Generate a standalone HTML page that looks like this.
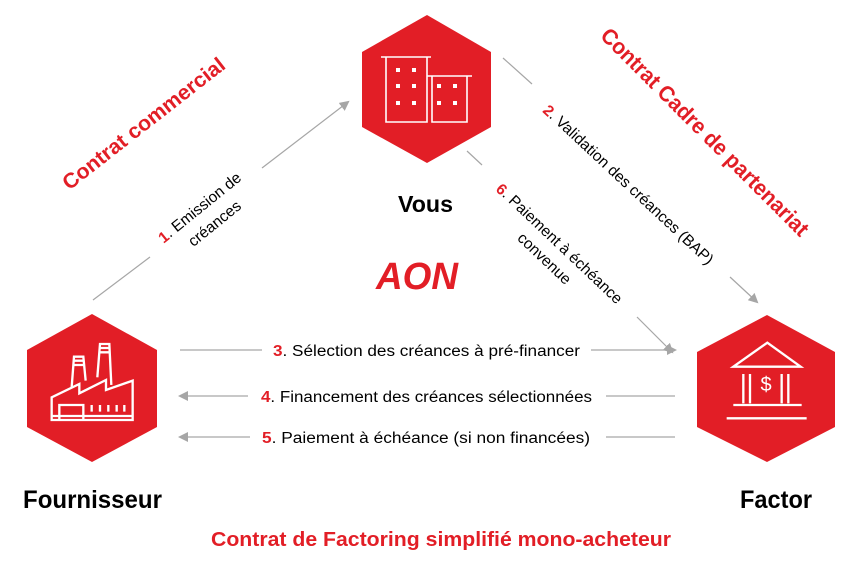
<!DOCTYPE html>
<html><head><meta charset="utf-8"><style>
html,body{margin:0;padding:0;background:#fff;}
svg{display:block;font-family:"Liberation Sans",Arial,sans-serif;}
</style></head><body>
<svg width="850" height="561" viewBox="0 0 850 561" xmlns="http://www.w3.org/2000/svg">
<defs>
<marker id="ah" markerWidth="10" markerHeight="10" refX="8" refY="5" orient="auto" markerUnits="userSpaceOnUse">
<path d="M0,0 L10,5 L0,10 Z" fill="#a6a6a6"/></marker>
</defs>
<!-- hexagons -->
<polygon points="427,15 491,52 491,127 427,163 362,127 362,52" fill="#e21e26"/>
<polygon points="92,314 157,350 157,427 92,462 27,427 27,350" fill="#e21e26"/>
<polygon points="767,315 835,352 835,427 767,462 697,427 697,352" fill="#e21e26"/>

<!-- building icon -->
<g stroke="#fff" stroke-width="1.6" fill="none">
<path d="M381,57 L431,57 M386,57 L386,122 L427,122 L427,57 M427,76 L472,76 M432,76 L432,122 L467,122 L467,76"/>
</g>
<g fill="#fff">
<rect x="396" y="68" width="4" height="4"/><rect x="412" y="68" width="4" height="4"/>
<rect x="396" y="84" width="4" height="4"/><rect x="412" y="84" width="4" height="4"/>
<rect x="396" y="101" width="4" height="4"/><rect x="412" y="101" width="4" height="4"/>
<rect x="437" y="84" width="4" height="4"/><rect x="453" y="84" width="4" height="4"/>
<rect x="437" y="101" width="4" height="4"/><rect x="453" y="101" width="4" height="4"/>
</g>

<!-- factory icon -->
<g transform="translate(20,310) scale(0.3333)" stroke="#fff" stroke-width="7" fill="none">
<path d="M95,330 L95,262 L178,222 L178,250 L258,210 L258,240 L338,212 L338,330 Z"/>
<path d="M155,232 L162,140 L190,140 L197,212"/>
<path d="M232,202 L240,102 L268,102 L274,225"/>
<path d="M160,152 L192,152 M159,165 L193,165 M239,114 L269,114 M238,127 L270,127"/>
<path d="M118,330 L118,285 L190,285 L190,330 M95,318 L338,318"/>
<path d="M215,285 L215,305 M240,285 L240,305 M265,285 L265,305 M290,285 L290,305 M313,285 L313,305"/>
</g>

<!-- bank icon -->
<g transform="translate(680,300) scale(0.3333)" stroke="#fff" stroke-width="7" fill="none">
<path d="M160,200 L262,128 L362,200 Z"/>
<path d="M190,222 L190,310 M210,222 L210,310 M305,222 L305,310 M325,222 L325,310"/>
<path d="M160,315 L365,315 M140,355 L380,355"/>
</g>
<text x="766" y="391" font-size="20" fill="#fff" text-anchor="middle">$</text>

<!-- connectors -->
<g stroke="#a6a6a6" stroke-width="1.2" fill="none">
<line x1="93" y1="300" x2="150" y2="257"/>
<line x1="262" y1="168" x2="348" y2="102" marker-end="url(#ah)"/>
<line x1="503" y1="58" x2="532" y2="84"/>
<line x1="730" y1="277" x2="757" y2="302" marker-end="url(#ah)"/>
<line x1="467" y1="151" x2="482" y2="165"/>
<line x1="637" y1="317" x2="672" y2="352" marker-end="url(#ah)"/>
<line x1="180" y1="350" x2="262" y2="350"/>
<line x1="591" y1="350" x2="675" y2="350" marker-end="url(#ah)"/>
<line x1="248" y1="396" x2="180" y2="396" marker-end="url(#ah)"/>
<line x1="606" y1="396" x2="675" y2="396"/>
<line x1="250" y1="437" x2="180" y2="437" marker-end="url(#ah)"/>
<line x1="606" y1="437" x2="675" y2="437"/>
</g>

<!-- diagonal labels -->
<text transform="translate(144,124) rotate(-38)" text-anchor="middle" dominant-baseline="central" font-size="21" font-weight="bold" fill="#e21e26" textLength="200" lengthAdjust="spacingAndGlyphs">Contrat commercial</text>
<text transform="translate(705,132) rotate(45)" text-anchor="middle" dominant-baseline="central" font-size="22" font-weight="bold" fill="#e21e26" textLength="284" lengthAdjust="spacingAndGlyphs">Contrat Cadre de partenariat</text>
<g font-size="15.5" fill="#000" dominant-baseline="central" text-anchor="middle">
<text transform="translate(200,208) rotate(-39)"><tspan fill="#e21e26" font-weight="bold">1</tspan>. Emission  de</text>
<text transform="translate(215,224) rotate(-39)">créances</text>
<text transform="translate(628,185) rotate(43)"><tspan fill="#e21e26" font-weight="bold">2</tspan>. Validation  des créances (BAP)</text>
<text transform="translate(559,244) rotate(43.5)"><tspan fill="#e21e26" font-weight="bold">6</tspan>. Paiement  à échéance</text>
<text transform="translate(544,259) rotate(43.5)">convenue</text>
</g>

<!-- horizontal labels -->
<g font-size="15.5" fill="#000">
<text x="273" y="356" textLength="307" lengthAdjust="spacingAndGlyphs"><tspan fill="#e21e26" font-weight="bold">3</tspan>. Sélection  des créances à pré-financer</text>
<text x="261" y="402" textLength="331" lengthAdjust="spacingAndGlyphs"><tspan fill="#e21e26" font-weight="bold">4</tspan>. Financement  des créances sélectionnées</text>
<text x="262" y="443" textLength="328" lengthAdjust="spacingAndGlyphs"><tspan fill="#e21e26" font-weight="bold">5</tspan>. Paiement  à échéance  (si non financées)</text>
</g>

<!-- AON -->
<text x="376" y="289" font-size="38" font-weight="bold" font-style="italic" fill="#e21e26" textLength="82" lengthAdjust="spacingAndGlyphs">AON</text>

<!-- titles -->
<text x="398" y="212" font-size="23" font-weight="bold" textLength="55" lengthAdjust="spacingAndGlyphs">Vous</text>
<text x="23" y="508" font-size="25" font-weight="bold" textLength="139" lengthAdjust="spacingAndGlyphs">Fournisseur</text>
<text x="740" y="508" font-size="25" font-weight="bold" textLength="72" lengthAdjust="spacingAndGlyphs">Factor</text>
<text x="211" y="546" font-size="20" font-weight="bold" fill="#e21e26" textLength="460" lengthAdjust="spacingAndGlyphs">Contrat de Factoring simplifié mono-acheteur</text>
</svg>
</body></html>
